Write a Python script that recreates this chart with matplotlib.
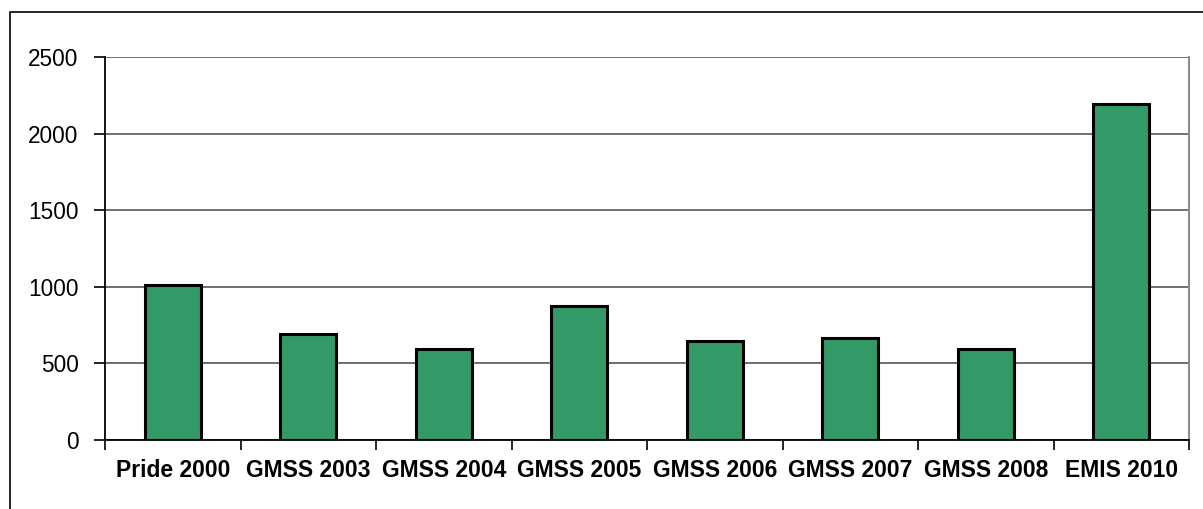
import numpy as np
import matplotlib.pyplot as plt
from matplotlib.patches import Rectangle

plt.rcParams['font.family'] = ['Liberation Sans', 'DejaVu Sans']

surveys = ['Pride 2000', 'GMSS 2003', 'GMSS 2004', 'GMSS 2005',
           'GMSS 2006', 'GMSS 2007', 'GMSS 2008', 'EMIS 2010']
counts = [1010, 695, 594, 875, 644, 668, 592, 2195]
yticks = [0, 500, 1000, 1500, 2000, 2500]

fig = plt.figure(figsize=(12.03, 5.09), dpi=100)
ax = fig.add_axes([105 / 1203, 1 - 440 / 509, (1189 - 105) / 1203, (440 - 57) / 509])

# outer frame of the chart object
fig.patches.append(Rectangle((10 / 1203, -0.1), 1.2, 1 - 12 / 509 + 0.1,
                             transform=fig.transFigure, fill=False,
                             edgecolor='black', linewidth=1.2))

x = np.arange(len(surveys))
ax.bar(x, counts, width=0.41, color='#339966', edgecolor='black',
       linewidth=2.2, zorder=3)

ax.set_xlim(-0.5, len(surveys) - 0.5)
ax.set_ylim(0, 2500)
ax.set_yticks(yticks)
ax.set_yticklabels([str(v) for v in yticks], fontsize=16.3)
ax.yaxis.grid(True, color='#636363', linewidth=1.3, zorder=0)

# ticks between categories, labels at centres
ax.set_xticks(np.arange(len(surveys) + 1) - 0.5)
ax.set_xticklabels([])
ax.set_xticks(x, minor=True)
ax.set_xticklabels(surveys, minor=True, fontsize=16.5, fontweight='bold')
ax.tick_params(axis='x', which='minor', length=0, pad=14)
ax.tick_params(axis='x', which='major', length=7, width=1.2, direction='out')
ax.tick_params(axis='y', length=8, width=1.2, direction='out', pad=11)

ax.spines['top'].set_visible(False)
ax.spines['right'].set_color('#8c8c8c')
ax.spines['right'].set_linewidth(1.5)
ax.spines['left'].set_linewidth(1.3)
ax.spines['bottom'].set_linewidth(1.3)

fig.savefig('out.png', dpi=100)
